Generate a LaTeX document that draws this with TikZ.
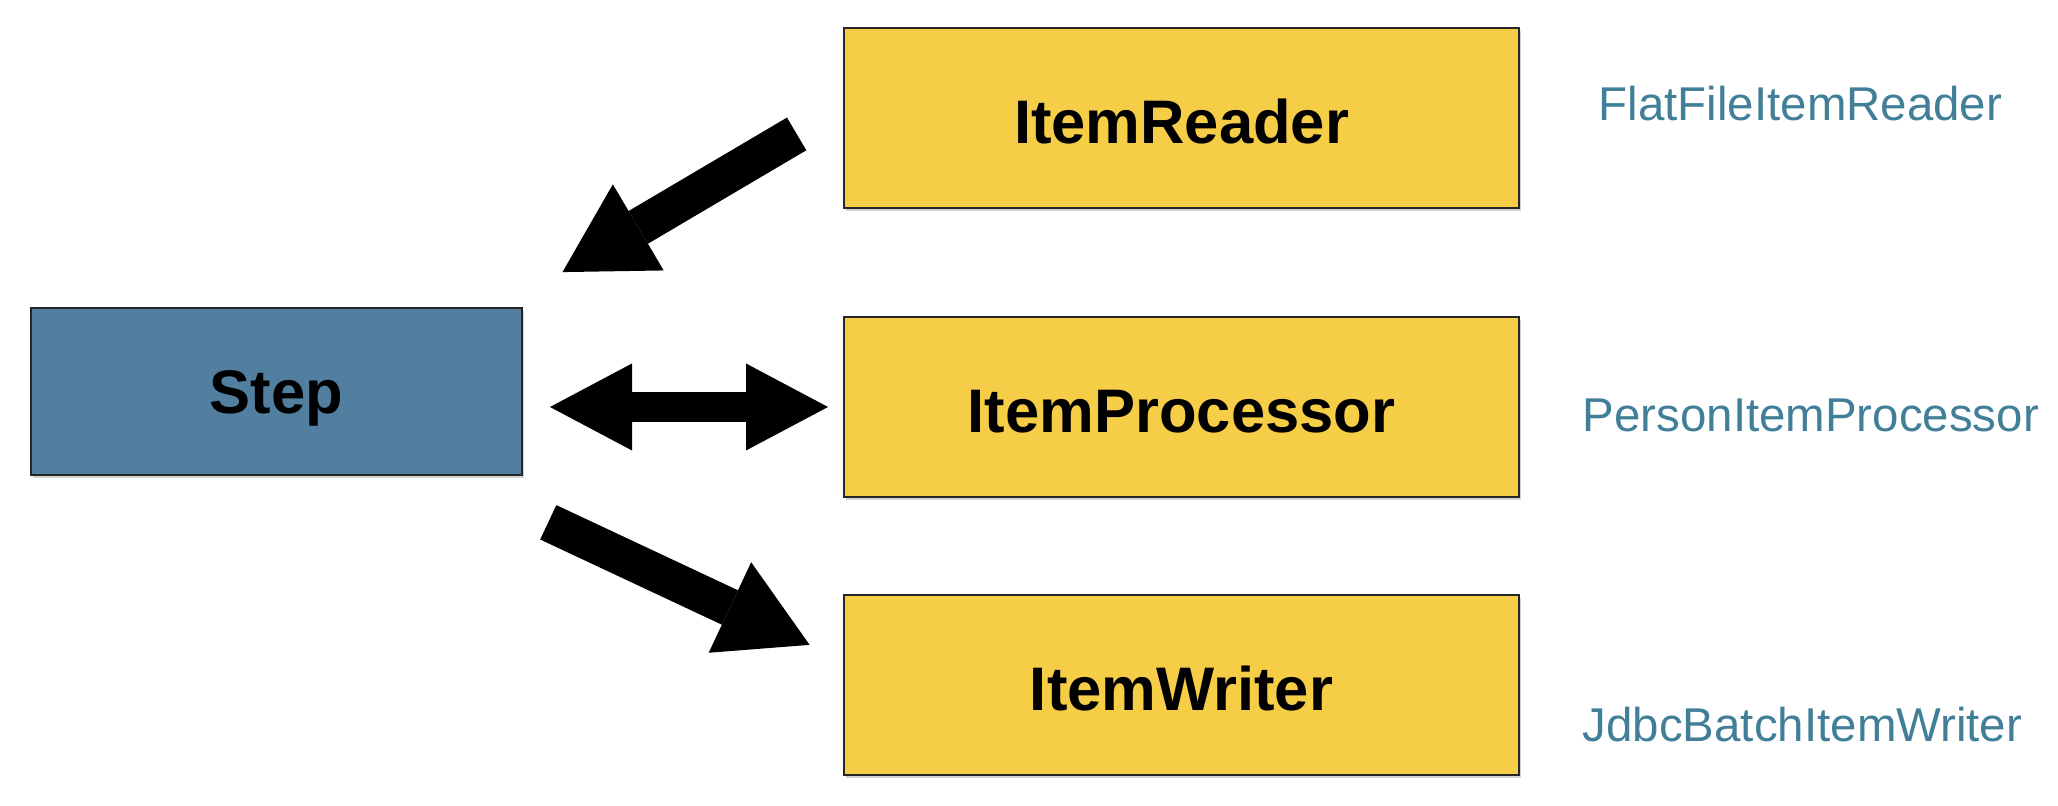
\documentclass[tikz,border=0pt]{standalone}
\usepackage{fontspec}
\setmainfont{Liberation Sans}
\usepackage{tikz}
\usetikzlibrary{positioning,arrows.meta,shadows}
\definecolor{stepblue}{RGB}{82,127,160}
\definecolor{itemyellow}{RGB}{246,205,71}
\definecolor{impltext}{RGB}{65,127,152}

\begin{document}
\begin{tikzpicture}[
  box/.style={draw=black!85,line width=0.8pt,outer sep=0pt,minimum height=1.8cm,
    font=\fontsize{17.5}{21}\selectfont\bfseries,text height=0.52cm,text depth=0pt,
    drop shadow={shadow xshift=0.5pt,shadow yshift=-0.9pt,opacity=0.35}},
  stepbox/.style={box,fill=stepblue,minimum width=4.91cm,minimum height=1.67cm,text height=0.44cm},
  itembox/.style={box,fill=itemyellow,minimum width=6.75cm},
  impl/.style={text=impltext,inner sep=0pt,anchor=base west,font=\fontsize{13.5}{16}\selectfont},
  fat/.style={line width=0.38cm,-{Triangle[length=0.88cm,width=1.0cm,line width=0pt]}},
  fatboth/.style={line width=0.30cm,{Triangle[length=0.82cm,width=0.87cm,line width=0pt]}-{Triangle[length=0.82cm,width=0.87cm,line width=0pt]}}]
  \useasboundingbox (0,0) rectangle (20.58,8.06);
  \node[stepbox] (step) at (2.765,4.145) {Step};
  \node[itembox] (reader) at (11.815,6.88) {ItemReader};
  \node[itembox,below=1.09cm of reader] (proc) {ItemProcessor};
  \node[itembox,below=0.98cm of proc] (writer) {ItemWriter};
  \node[impl] (readerimpl) at (15.98,6.85) {FlatFileItemReader};
  \node[impl] (procimpl) at (15.82,3.74) {PersonItemProcessor};
  \node[impl] (writerimpl) at (15.82,0.64) {JdbcBatchItemWriter};
  \draw[fat,shorten <=0.55cm,shorten >=0.47cm] ([yshift=0.12cm]reader.west) -- ([yshift=0.12cm]step.north east);
  \draw[fatboth,shorten <=0.28cm,shorten >=0.16cm] (step.east|-proc.west) -- (proc.west);
  \draw[fat,shorten <=0.29cm,shorten >=0.38cm] ([yshift=-0.35cm]step.south east) -- ([yshift=0.24cm]writer.west);
\end{tikzpicture}
\end{document}
